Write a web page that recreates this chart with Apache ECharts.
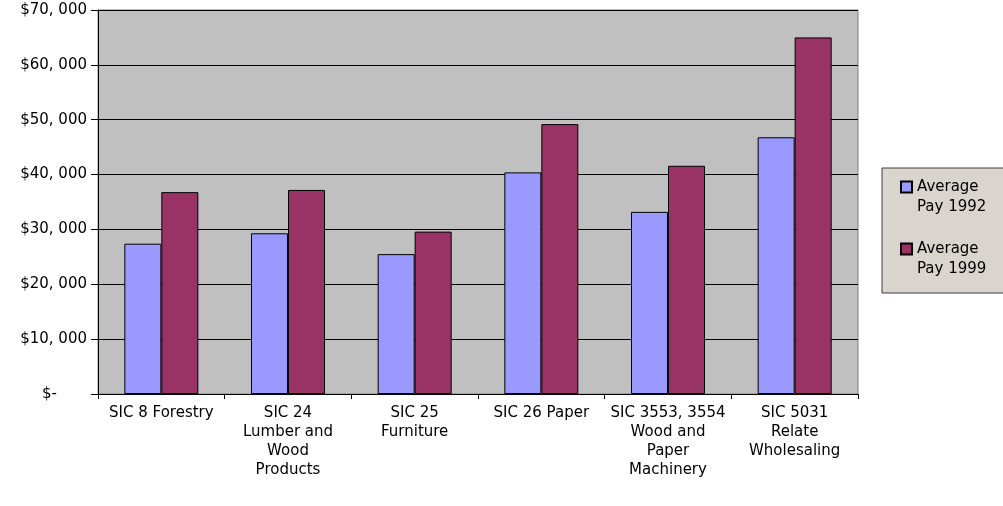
<!DOCTYPE html>
<html>
<head>
<meta charset="utf-8">
<script src="https://cdn.jsdelivr.net/npm/echarts@6/dist/echarts.min.js"></script>
<style>
  html, body { margin: 0; padding: 0; background: #ffffff; }
  #chart { width: 1003px; height: 506px; }
</style>
</head>
<body>
<div id="chart"></div>
<script>
// Industry groups (wrapped the way the axis shows them)
const categories = [
  'SIC 8 Forestry',
  'SIC 24\nLumber and\nWood\nProducts',
  'SIC 25\nFurniture',
  'SIC 26 Paper',
  'SIC 3553, 3554\nWood and\nPaper\nMachinery',
  'SIC 5031\nRelate\nWholesaling'
];

// Average annual pay, US dollars
const pay1992 = [27400, 29300, 25500, 40400, 33200, 46800];
const pay1999 = [36800, 37200, 29600, 49200, 41600, 65000];

const seriesNames = ['Average\nPay 1992', 'Average\nPay 1999'];

// Value axis range
const yMin = 0;
const yMax = 70000;
const yStep = 10000;

const FONT = 'DejaVu Sans';

const chart = echarts.init(document.getElementById('chart'));

function money(v) {
  if (v === 0) return '{z|$-}';
  return '$' + (v / 1000) + ', 000';
}

chart.setOption({
  backgroundColor: '#ffffff',
  animation: false,
  grid: {
    left: 98,
    right: 145,
    top: 10,
    bottom: 112,
    show: true,
    backgroundColor: '#C0C0C0',
    borderColor: '#808080',
    borderWidth: 1
  },
  graphic: [{
    type: 'rect',
    z: 0,
    shape: { x: 882, y: 168, width: 140, height: 125 },
    style: { fill: '#DAD4CE', stroke: '#3C3C3C', lineWidth: 1 }
  }],
  legend: {
    z: 5,
    orient: 'vertical',
    left: 900,
    top: 157,
    padding: 0,
    itemGap: 2,
    itemWidth: 11,
    itemHeight: 11,
    icon: 'rect',
    selectedMode: false,
    // leading blank line keeps the swatch level with the first text line
    formatter: function (name) { return '\n' + name; },
    textStyle: {
      fontFamily: FONT,
      fontSize: 15,
      color: '#000',
      lineHeight: 20
    },
    data: seriesNames
  },
  xAxis: {
    type: 'category',
    data: categories,
    axisLine: { lineStyle: { color: '#000', width: 1 } },
    axisTick: { show: true, length: 5, lineStyle: { color: '#000' } },
    axisLabel: {
      interval: 0,
      margin: 10,
      fontFamily: FONT,
      fontSize: 15,
      lineHeight: 19,
      color: '#000'
    }
  },
  yAxis: {
    type: 'value',
    min: yMin,
    max: yMax,
    interval: yStep,
    axisLine: { show: true, lineStyle: { color: '#000', width: 1 } },
    axisTick: { show: true, length: 7, lineStyle: { color: '#000' } },
    splitLine: { show: true, lineStyle: { color: '#000', width: 1 } },
    axisLabel: {
      margin: 11,
      fontFamily: FONT,
      fontSize: 15,
      color: '#000',
      formatter: money,
      rich: {
        z: { fontFamily: FONT, fontSize: 15, color: '#000', padding: [0, 30, 0, 0] }
      }
    }
  },
  series: [
    {
      name: seriesNames[0],
      type: 'bar',
      data: pay1992,
      barWidth: 37,
      barGap: '0%',
      itemStyle: { color: '#9999FF', borderColor: '#000', borderWidth: 1 }
    },
    {
      name: seriesNames[1],
      type: 'bar',
      data: pay1999,
      barWidth: 37,
      barGap: '0%',
      itemStyle: { color: '#993366', borderColor: '#000', borderWidth: 1 }
    }
  ]
});
</script>
</body>
</html>
